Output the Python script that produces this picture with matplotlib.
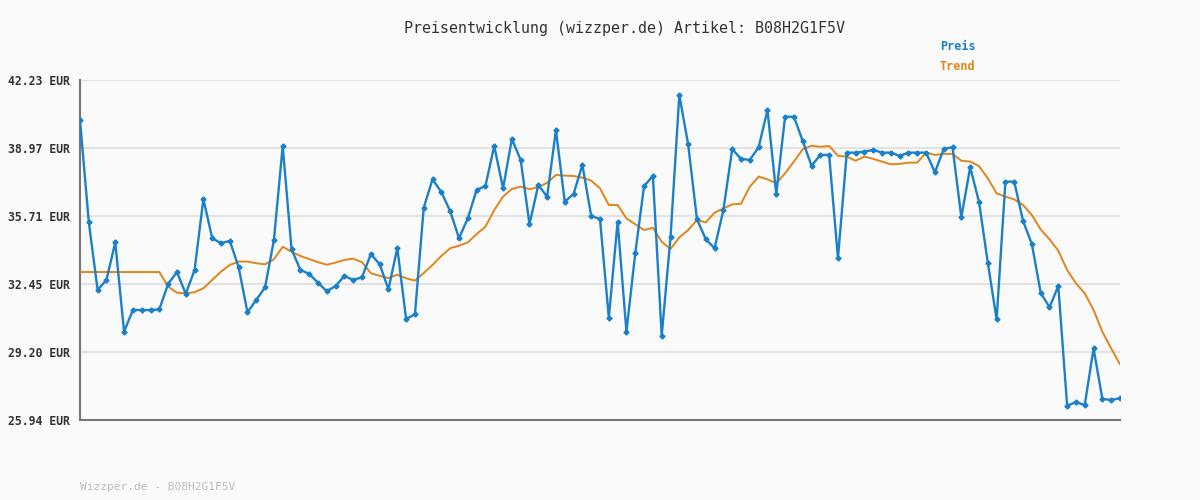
import numpy as np
import matplotlib
matplotlib.use("Agg")
import matplotlib.pyplot as plt

# price readings (EUR), one per data point
preis = [
    40.31, 35.41, 32.17, 32.65, 34.45, 30.17, 31.21, 31.21, 31.21, 31.24,
    32.46, 33.03, 31.98, 33.13, 36.53, 34.65, 34.41, 34.52, 33.26, 31.10,
    31.69, 32.30, 34.56, 39.07, 34.12, 33.13, 32.94, 32.52, 32.11, 32.36,
    32.84, 32.65, 32.78, 33.89, 33.40, 32.20, 34.18, 30.78, 31.00, 36.11,
    37.47, 36.86, 35.95, 34.65, 35.60, 36.96, 37.15, 39.07, 37.04, 39.40,
    38.40, 35.32, 37.20, 36.64, 39.83, 36.40, 36.77, 38.16, 35.72, 35.57,
    30.84, 35.44, 30.17, 33.93, 37.15, 37.63, 29.98, 34.69, 41.51, 39.15,
    35.56, 34.60, 34.17, 36.00, 38.92, 38.45, 38.40, 39.01, 40.79, 36.77,
    40.47, 40.47, 39.31, 38.12, 38.64, 38.64, 33.69, 38.75, 38.75, 38.80,
    38.88, 38.75, 38.75, 38.59, 38.75, 38.75, 38.75, 37.81, 38.92, 39.01,
    35.65, 38.05, 36.40, 33.48, 30.76, 37.36, 37.36, 35.48, 34.37, 32.04,
    31.34, 32.36, 26.63, 26.79, 26.66, 29.37, 26.95, 26.90, 26.98,
]

trend = [
    33.03, 33.03, 33.03, 33.03, 33.03, 33.03, 33.03, 33.03, 33.03, 33.03,
    32.33, 32.04, 32.01, 32.06, 32.25, 32.65, 33.05, 33.37, 33.53, 33.53,
    33.45, 33.40, 33.64, 34.24, 34.00, 33.80, 33.65, 33.50, 33.38, 33.48,
    33.61, 33.67, 33.50, 32.97, 32.85, 32.74, 32.90, 32.73, 32.62, 32.98,
    33.37, 33.80, 34.17, 34.29, 34.45, 34.85, 35.20, 36.00, 36.64, 37.01,
    37.12, 37.00, 37.09, 37.31, 37.68, 37.65, 37.63, 37.55, 37.41, 37.04,
    36.24, 36.24, 35.60, 35.32, 35.04, 35.15, 34.48, 34.13, 34.69, 35.04,
    35.52, 35.41, 35.87, 36.08, 36.27, 36.30, 37.12, 37.60, 37.47, 37.28,
    37.76, 38.32, 38.91, 39.08, 39.03, 39.07, 38.60, 38.56, 38.36, 38.56,
    38.45, 38.32, 38.19, 38.21, 38.27, 38.27, 38.75, 38.64, 38.69, 38.69,
    38.36, 38.32, 38.11, 37.52, 36.80, 36.64, 36.51, 36.24, 35.76, 35.07,
    34.60, 34.05, 33.13, 32.49, 32.01, 31.21, 30.17, 29.37, 28.61,
]

yticks = [25.94, 29.20, 32.45, 35.71, 38.97, 42.23]
artikel = "B08H2G1F5V"

bg = "#fafafa"
blue = "#1a80c8"
orange = "#e0851a"
mono = "DejaVu Sans Mono"

fig = plt.figure(figsize=(12, 5), dpi=100, facecolor=bg)
ax = fig.add_axes([80 / 1200, 80 / 500, 1040 / 1200, 340 / 500], facecolor=bg)

x = np.arange(len(preis))
ax.plot(x, trend, color=orange, lw=1.4, zorder=3)
ax.plot(x, preis, color=blue, lw=1.7, marker="P", ms=3.2, zorder=4)

ax.set_xlim(0, len(preis) - 1)
ax.set_ylim(yticks[0], yticks[-1])
ax.set_yticks(yticks)
ax.set_yticklabels([f"{v:.2f} EUR" for v in yticks], fontfamily=mono,
                   fontsize=8.3, fontweight="bold", color="#333333")
ax.set_xticks([])
ax.tick_params(axis="y", length=0, pad=7)
ax.grid(axis="y", color="#e3e3e3", lw=1.5)
ax.set_axisbelow(True)
for s in ["top", "right"]:
    ax.spines[s].set_visible(False)
ax.spines["left"].set_color("#777777")
ax.spines["bottom"].set_color("#777777")
ax.spines["left"].set_linewidth(1.5)
ax.spines["bottom"].set_linewidth(1.5)

fig.text(0.52, 1 - 28 / 500, f"Preisentwicklung (wizzper.de) Artikel: {artikel}",
         ha="center", va="center", fontfamily=mono, fontsize=10.8, color="#333333")
fig.text(940 / 1200, 1 - 47 / 500, "Preis", fontfamily=mono, fontsize=8.5,
         fontweight="bold", color=blue, va="center")
fig.text(940 / 1200, 1 - 67 / 500, "Trend", fontfamily=mono, fontsize=8.5,
         fontweight="bold", color=orange, va="center")
fig.text(80 / 1200, 1 - 487 / 500, f"Wizzper.de - {artikel}", fontfamily=mono,
         fontsize=8, color="#bbbbbb", va="center")

fig.savefig("out.png", dpi=100, facecolor=bg)
